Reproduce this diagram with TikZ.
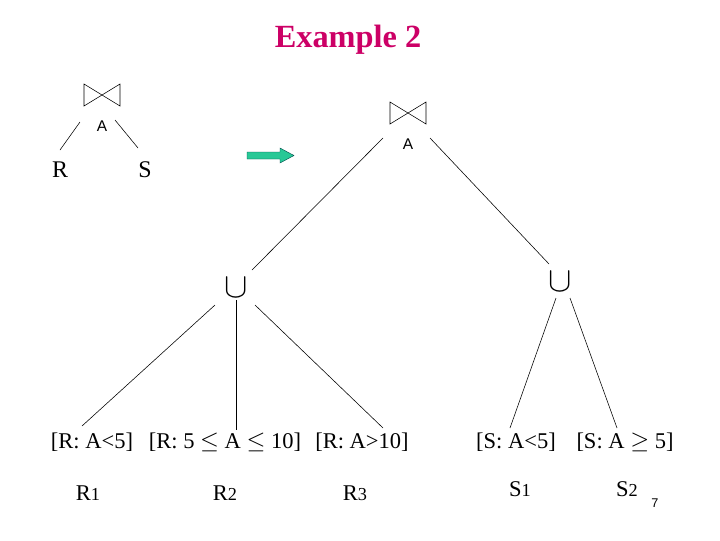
\documentclass[tikz,border=0pt]{standalone}
\usepackage{fontspec}
\setmainfont{Liberation Serif}
\setsansfont{Liberation Sans}
\usetikzlibrary{positioning}
\definecolor{titlered}{RGB}{204,0,102}
\definecolor{arrowgreen}{RGB}{40,200,150}
\tikzset{
  edge/.style={thin},
  leaf/.style={font=\fontsize{16}{19}\selectfont, inner sep=1pt},
  attr/.style={font=\sffamily\fontsize{11}{13}\selectfont, inner sep=1pt},
  unionsym/.style={font=\fontsize{26}{28}\selectfont, inner sep=0pt},
}
\newcommand{\joinsym}[1]{%
  \draw (#1) ++(-18,-11) -- ++(0,22) -- ++(36,-22) -- ++(0,22) -- cycle;}
\begin{document}
\begin{tikzpicture}[x=0.025cm,y=-0.025cm]
  \useasboundingbox (0,0) rectangle (720,540);
  \node[font=\bfseries\fontsize{23}{26}\selectfont, text=titlered] (title) at (348,40) {Example 2};

  % small tree
  \coordinate (j1) at (102,95);
  \joinsym{j1}
  \node[attr] (a1) at (102,126) {A};
  \node[leaf, font=\fontsize{17}{20}\selectfont] (r) at (60,170) {R};
  \node[leaf, font=\fontsize{17}{20}\selectfont] (s) at (145,170) {S};
  \coordinate (j1l) at (80,122);  \coordinate (j1r) at (115,120);
  \coordinate (rt) at (60,150);   \coordinate (st) at (138,148);
  \draw[edge] (j1l) -- (rt);
  \draw[edge] (j1r) -- (st);

  % arrow
  \fill[arrowgreen, draw=teal!60!black, line width=0.3pt]
    (247,152) -- (280,152) -- (280,148) -- (294,155.5) -- (280,163) -- (280,159) -- (247,159) -- cycle;

  % big tree
  \coordinate (j2) at (408,113);
  \joinsym{j2}
  \node[attr] (a2) at (408,144) {A};
  \node[unionsym] (u1) at (236,288) {$\cup$};
  \node[unionsym] (u2) at (560,282) {$\cup$};
  \draw[edge] (383,138) -- (252,270);
  \draw[edge] (430,138) -- (549,264);

  \node[leaf] (c1) at (92,442) {[R: A<5]};
  \node[leaf] (c2) at (225,442) {[R: 5 $\leq$ A $\leq$ 10]};
  \node[leaf] (c3) at (362,442) {[R: A>10]};
  \node[leaf] (c4) at (516,442) {[S: A<5]};
  \node[leaf] (c5) at (625,442) {[S: A $\geq$ 5]};
  \draw[edge] (215,305) -- (82,426);
  \draw[edge] (236,300) -- (236,430);
  \draw[edge] (255,305) -- (383,428);
  \draw[edge] (556,298) -- (510,428);
  \draw[edge] (570,298) -- (617,428);

  \node[leaf] (n1) at (88,493) {R{\fontsize{13}{15}\selectfont 1}};
  \node[leaf] (n2) at (225,493) {R{\fontsize{13}{15}\selectfont 2}};
  \node[leaf] (n3) at (355,493) {R{\fontsize{13}{15}\selectfont 3}};
  \node[leaf] (n4) at (520,489) {S{\fontsize{13}{15}\selectfont 1}};
  \node[leaf] (n5) at (627,489) {S{\fontsize{13}{15}\selectfont 2}};
  \node[font=\sffamily\fontsize{9}{11}\selectfont] (page) at (655,503) {7};
\end{tikzpicture}
\end{document}
